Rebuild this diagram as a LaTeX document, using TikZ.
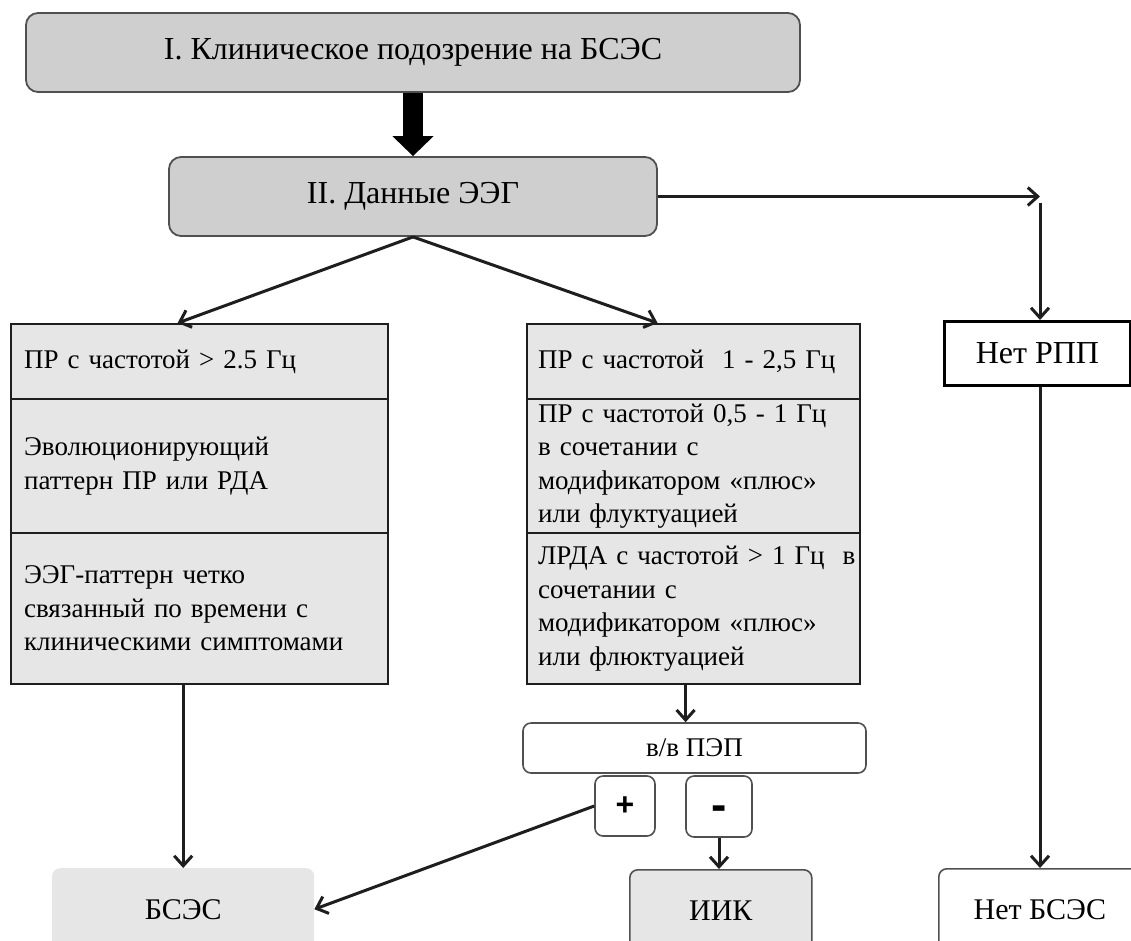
\documentclass[tikz,border=0pt]{standalone}
\usepackage{fontspec}
\setmainfont{Liberation Serif}
\newfontfamily\sansb{Liberation Sans}
\usetikzlibrary{arrows.meta}
\definecolor{topgray}{RGB}{208,207,208}
\definecolor{cellgray}{RGB}{230,230,230}
\definecolor{edgegray}{RGB}{80,80,80}
\definecolor{ink}{RGB}{30,30,30}
\begin{document}
\begin{tikzpicture}[x=1pt,y=-1pt,
  topbox/.style={draw=edgegray, line width=1.8pt, fill=topgray, rounded corners=12pt,
    font=\fontsize{32}{38}\selectfont, inner sep=0pt},
  cell/.style={draw=ink, line width=2.2pt, fill=cellgray, anchor=north west, align=left,
    font=\fontsize{27}{33.5}\selectfont, inner ysep=0pt},
  lcell/.style={cell, text width=351pt, inner xsep=13pt},
  mcell/.style={cell, text width=311pt, inner xsep=11pt},
  whitebox/.style={draw=edgegray, line width=1.6pt, fill=white, rounded corners=8pt, inner sep=0pt},
  endbox/.style={anchor=north west, rounded corners=8pt, minimum height=82pt, inner sep=0pt,
    font=\fontsize{30}{36}\selectfont},
  conn/.style={draw=ink, line width=3pt, -{Straight Barb[length=10pt,width=18pt]}},
  bigarrow/.style={draw=black, line width=20pt, -{Triangle[length=20pt,width=40pt]}}
]
\useasboundingbox (0,0) rectangle (1131,940);
\clip (0,0) rectangle (1131,940);

% top boxes
\node[topbox, minimum width=774pt, minimum height=79pt] (t1) at (413,52.5) {I. Клиническое подозрение на БСЭС};
\node[topbox, minimum width=488pt, minimum height=79pt] (t2) at (413,196.5) {II. Данные ЭЭГ};

% left column
\node[lcell, minimum height=75pt] (l1) at (10,323) {ПР с частотой > 2.5 Гц};
\node[lcell, minimum height=134pt] (l2) at (10,398) {Эволюционирующий\\паттерн ПР или РДА};
\node[lcell, minimum height=151pt] (l3) at (10,532) {ЭЭГ-паттерн четко\\связанный по времени с\\клиническими симптомами};

% middle column
\node[mcell, minimum height=75pt] (m1) at (526,323) {ПР с частотой~ 1 - 2,5 Гц};
\node[mcell, minimum height=134pt] (m2) at (526,398) {ПР~с~частотой~0,5~-~1~Гц\\в сочетании с\\модификатором~«плюс»\\или флуктуацией};
\node[mcell, minimum height=151pt] (m3) at (526,532) {ЛРДА~с~частотой~>~1~Гц~~в\\сочетании с\\модификатором~«плюс»\\или флюктуацией};

% right column
\node[draw=black, line width=2.8pt, fill=white, anchor=north west, minimum width=186pt,
  minimum height=64pt, inner sep=0pt, font=\fontsize{32}{38}\selectfont] (nrpp) at (943,320) {Нет РПП};
\coordinate (c1) at (1040,196.5);
\coordinate (c2) at (1040,203);

% test and results
\node[whitebox, minimum width=343pt, minimum height=50pt, font=\fontsize{27}{32}\selectfont] (pep) at (694.5,748) {в/в ПЭП};
\node[whitebox, minimum width=60pt, minimum height=60pt, font=\sansb\bfseries\fontsize{32}{36}\selectfont] (plus) at (625,806) {+};
\node[whitebox, minimum width=66pt, minimum height=61pt] (minus) at (719,806.5) {};
\node[font=\sansb\bfseries\fontsize{46}{50}\selectfont, inner sep=0pt] (minustxt) at ([yshift=-7pt]minus.center) {-};

\node[endbox, fill=cellgray, minimum width=262pt] (bses) at (52,868) {БСЭС};
\node[endbox, draw=edgegray, line width=1.6pt, fill=cellgray, minimum width=182pt] (iik) at (629,869) {ИИК};
\node[endbox, draw=edgegray, line width=1.6pt, fill=white, minimum width=202pt] (nbses) at (938,868) {Нет БСЭС};

% connectors
\draw[bigarrow] (t1.south) -- (t2.north);
\draw[conn] (t2.south) -- ([xshift=-22pt]l1.north);
\draw[conn] (t2.south) -- ([xshift=-36pt]m1.north);
\draw[conn] (t2.east) -- (c1);
\draw[conn] (c2) -- (c2 |- nrpp.north);
\draw[conn] (nrpp.south -| c2) -- (nbses.north -| c2);
\draw[conn] (bses.north |- l3.south) -- (bses.north);
\draw[conn] ([xshift=-8pt]m3.south) -- ([xshift=-8pt]m3.south |- pep.north);
\draw[conn] (minus.south) -- (minus.south |- iik.north);
\draw[conn] (plus.west) -- (bses.east);
\end{tikzpicture}
\end{document}
